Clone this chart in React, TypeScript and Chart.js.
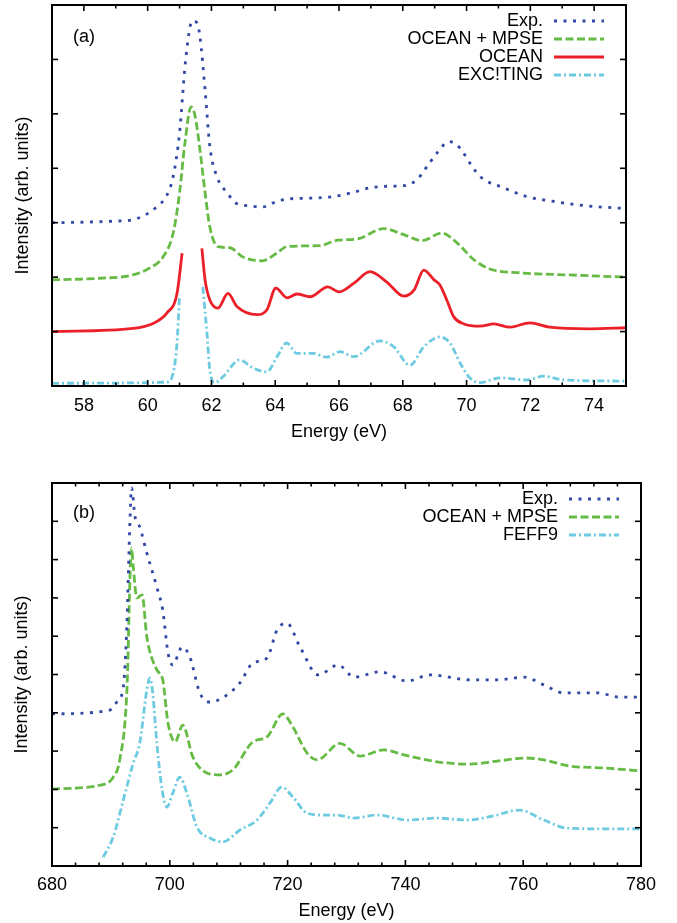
import React, { useEffect, useRef } from 'react';
import { Chart, registerables } from 'chart.js';

Chart.register(...registerables);

const FONT = '"Liberation Sans", Arial, Helvetica, sans-serif';

// ---------- Panel (a): Energy 57–75 eV ----------
const A_EXP_X = [57, 58, 59, 59.5, 59.85, 60.3, 60.6, 60.8, 61.0, 61.17, 61.3, 61.39, 61.55, 61.64, 61.8, 61.95, 62.17, 62.49, 62.8, 63.2, 63.6, 64.05, 64.46, 65.0, 65.8, 66.4, 66.97, 67.5, 68.03, 68.44, 68.76, 69.07, 69.45, 69.8, 70.1, 70.42, 71.17, 71.89, 72.74, 73.77, 75];
const A_EXP_Y = [3.0, 3.01, 3.03, 3.05, 3.12, 3.3, 3.5, 3.85, 4.65, 5.87, 6.5, 6.71, 6.67, 6.42, 5.44, 4.4, 3.85, 3.55, 3.35, 3.31, 3.29, 3.39, 3.44, 3.45, 3.48, 3.55, 3.64, 3.67, 3.68, 3.79, 4.03, 4.28, 4.49, 4.37, 4.1, 3.85, 3.64, 3.48, 3.39, 3.31, 3.26];

const A_MPSE_X = [57, 58.5, 59.54, 60.07, 60.48, 60.8, 61.0, 61.17, 61.36, 61.48, 61.64, 61.8, 61.95, 62.2, 62.58, 62.99, 63.6, 64.05, 64.36, 65.4, 65.97, 66.56, 67.4, 68.03, 68.6, 69.22, 69.7, 70.23, 70.73, 71.67, 73.24, 75];
const A_MPSE_Y = [1.95, 1.98, 2.04, 2.17, 2.37, 2.81, 3.55, 4.47, 5.13, 4.98, 4.34, 3.55, 2.92, 2.56, 2.54, 2.37, 2.3, 2.44, 2.56, 2.58, 2.68, 2.7, 2.89, 2.78, 2.67, 2.81, 2.63, 2.32, 2.15, 2.08, 2.04, 2.0];

const A_OCEAN_X = [57, 59.54, 60.17, 60.6, 60.92, 61.08, 61.4, 61.7, 61.8, 61.95, 62.2, 62.52, 62.8, 63.43, 63.74, 64.02, 64.37, 64.68, 65.09, 65.65, 66.0, 66.47, 66.97, 67.5, 68.03, 68.35, 68.66, 68.98, 69.16, 69.38, 69.6, 69.92, 70.42, 70.86, 71.36, 71.98, 72.61, 73.87, 75];
const A_OCEAN_Y = [1.0, 1.06, 1.15, 1.34, 1.7, 2.44, null, 2.53, 1.95, 1.58, 1.43, 1.7, 1.46, 1.31, 1.4, 1.8, 1.62, 1.69, 1.64, 1.82, 1.73, 1.89, 2.1, 1.91, 1.65, 1.76, 2.13, 1.95, 1.86, 1.58, 1.27, 1.14, 1.1, 1.14, 1.08, 1.16, 1.08, 1.05, 1.07];

const A_EXC_X = [57, 60.6, 60.8, 60.92, 61.0, 61.4, 61.73, 61.86, 61.95, 62.11, 62.36, 62.89, 63.3, 63.74, 64.05, 64.36, 64.68, 65.18, 65.62, 66.03, 66.47, 67.28, 67.72, 68.22, 68.66, 69.16, 69.48, 69.8, 70.1, 70.42, 71.05, 71.89, 72.42, 73.05, 75];
const A_EXC_Y = [0.05, 0.07, 0.24, 0.79, 1.67, null, 1.82, 0.97, 0.29, 0.06, 0.17, 0.48, 0.33, 0.26, 0.53, 0.79, 0.6, 0.6, 0.53, 0.63, 0.54, 0.83, 0.72, 0.38, 0.72, 0.9, 0.79, 0.42, 0.15, 0.06, 0.15, 0.11, 0.18, 0.11, 0.09];

const A_XTICKS = [57, 58, 59, 60, 61, 62, 63, 64, 65, 66, 67, 68, 69, 70, 71, 72, 73, 74, 75];
const A_XLABELS = [58, 60, 62, 64, 66, 68, 70, 72, 74];
const A_YTICKS = [0, 1, 2, 3, 4, 5, 6, 7];

// ---------- Panel (b): Energy 680–780 eV ----------
const B_EXP_X = [680, 689.8, 691.0, 692.1, 692.7, 693.2, 693.5, 694.1, 694.9, 696.1, 697.8, 698.8, 699.7, 700.5, 702.1, 703.4, 705.1, 706.8, 709.0, 711.9, 714.1, 716.5, 718.2, 719.9, 722.1, 725.2, 728.6, 731.3, 735.7, 740.3, 744.2, 751.0, 755.6, 760.1, 763.5, 766.9, 772.5, 776.4, 780];
const B_EXP_Y = [3.97, 4.07, 4.28, 4.67, 6.24, 8.85, 9.87, 9.11, 8.85, 8.17, 7.28, 6.68, 5.56, 5.25, 5.72, 5.46, 4.52, 4.28, 4.39, 4.78, 5.3, 5.43, 6.16, 6.34, 5.72, 4.99, 5.25, 4.93, 5.07, 4.83, 4.99, 4.86, 4.86, 4.93, 4.73, 4.52, 4.52, 4.41, 4.41];

const B_MPSE_X = [680, 688.1, 690.4, 691.5, 692.7, 693.5, 693.8, 694.4, 695.3, 696.1, 697.8, 698.8, 699.7, 700.9, 702.2, 703.9, 706.3, 708.5, 710.7, 714.1, 716.5, 719.2, 720.9, 723.3, 725.0, 728.9, 732.3, 736.4, 739.8, 745.4, 751.0, 755.6, 760.6, 763.5, 767.9, 773.7, 780];
const B_MPSE_Y = [2.01, 2.11, 2.32, 2.77, 4.52, 8.3, 7.81, 7.0, 7.08, 5.98, 5.12, 4.86, 3.73, 3.24, 3.68, 2.85, 2.43, 2.38, 2.51, 3.24, 3.37, 3.97, 3.63, 2.95, 2.77, 3.2, 2.87, 3.03, 2.9, 2.72, 2.66, 2.74, 2.82, 2.77, 2.61, 2.56, 2.48];

const B_FEFF_X = [688.7, 690.4, 692.1, 693.8, 694.9, 696.1, 696.6, 697.1, 697.8, 698.7, 699.5, 700.5, 701.7, 702.9, 704.6, 706.8, 709.0, 711.9, 714.8, 717.0, 719.0, 720.9, 723.3, 726.0, 728.4, 731.3, 735.2, 740.3, 745.4, 750.5, 755.0, 759.3, 763.5, 767.4, 773.7, 780];
const B_FEFF_Y = [0.23, 0.76, 1.72, 2.69, 3.21, 4.6, 4.91, 4.52, 3.21, 1.98, 1.54, 1.9, 2.32, 1.9, 1.02, 0.73, 0.63, 0.94, 1.2, 1.64, 2.06, 1.8, 1.38, 1.33, 1.33, 1.25, 1.33, 1.2, 1.25, 1.2, 1.31, 1.46, 1.2, 0.99, 0.97, 0.97];

const B_XTICKS = [680, 684, 688, 692, 696, 700, 704, 708, 712, 716, 720, 724, 728, 732, 736, 740, 744, 748, 752, 756, 760, 764, 768, 772, 776, 780];
const B_XLABELS = [680, 700, 720, 740, 760, 780];
const B_YTICKS = [0, 1, 2, 3, 4, 5, 6, 7, 8, 9, 10];

const LABEL_EXP = 'Exp.';
const LABEL_MPSE = 'OCEAN + MPSE';
const LABEL_OCEAN = 'OCEAN';
const LABEL_EXC = 'EXC!TING';
const LABEL_FEFF = 'FEFF9';

const C_EXP = '#3048a6';
const C_MPSE = '#66bb44';
const C_OCEAN = '#ec2028';
const C_EXC = '#6ccbe0';

const DASH_EXP = [3, 6.5];
const DASH_MPSE = [8, 3.5];
const DASH_EXC = [7, 3, 2, 3];

function pts(xs: number[], ys: (number | null)[]) {
  return xs.map((x, i) => ({ x, y: ys[i] }));
}

function ds(label: string, xs: number[], ys: (number | null)[], color: string, dash: number[]) {
  return {
    label,
    data: pts(xs, ys),
    borderColor: color,
    backgroundColor: color,
    borderWidth: 2.8,
    borderDash: dash,
    fill: false,
    pointRadius: 0,
    spanGaps: false,
    cubicInterpolationMode: 'monotone',
  };
}

const frameTicks = {
  id: 'frameTicks',
  afterDatasetsDraw(chart: any, _args: any, opts: any) {
    const { ctx, chartArea: a, scales } = chart;
    const line = (x1: number, y1: number, x2: number, y2: number) => {
      ctx.beginPath();
      ctx.moveTo(x1, y1);
      ctx.lineTo(x2, y2);
      ctx.stroke();
    };
    ctx.save();
    ctx.setLineDash([]);
    ctx.strokeStyle = '#000';
    ctx.lineWidth = 1.6;
    const xs = scales.x;
    const majors: number[] = opts.xMajors || [];
    xs.ticks.forEach((t: any) => {
      const px = xs.getPixelForValue(t.value);
      const len = majors.indexOf(t.value) >= 0 ? 6 : 3.5;
      line(px, a.bottom, px, a.bottom - len);
      line(px, a.top, px, a.top + len);
    });
    const ys = scales.y;
    ys.ticks.forEach((t: any) => {
      const py = ys.getPixelForValue(t.value);
      line(a.left, py, a.left + 6, py);
      line(a.right, py, a.right - 6, py);
    });
    ctx.lineWidth = 2;
    ctx.strokeRect(a.left, a.top, a.right - a.left, a.bottom - a.top);

    ctx.fillStyle = '#000';
    ctx.font = `18px ${FONT}`;
    ctx.textBaseline = 'middle';
    ctx.textAlign = 'left';
    ctx.fillText(opts.panel, a.left + 21, a.top + opts.panelDy);

    chart.data.datasets.forEach((d: any, i: number) => {
      const y = a.top + 16 + i * 18;
      ctx.setLineDash([]);
      ctx.fillStyle = '#000';
      ctx.textAlign = 'right';
      ctx.fillText(d.label, a.right - 83, y);
      ctx.strokeStyle = d.borderColor;
      ctx.lineWidth = d.borderWidth;
      ctx.setLineDash(d.borderDash || []);
      line(a.right - 72, y, a.right - 22, y);
    });
    ctx.restore();
  },
};

function makeConfig(p: any) {
  return {
    type: 'line',
    data: { datasets: p.datasets },
    options: {
      responsive: false,
      animation: false,
      events: [],
      layout: { padding: { left: 0, right: p.padRight, top: p.padTop, bottom: 0 } },
      plugins: {
        legend: { display: false },
        tooltip: { enabled: false },
        frameTicks: { panel: p.panel, panelDy: p.panelDy, xMajors: p.xLabels },
      },
      scales: {
        x: {
          type: 'linear',
          min: p.xMin,
          max: p.xMax,
          grid: { display: false, drawTicks: false },
          border: { display: false },
          ticks: {
            autoSkip: false,
            maxRotation: 0,
            padding: p.tickPad,
            color: '#000',
            font: { family: FONT, size: 18 },
            callback: (v: number) => (p.xLabels.indexOf(v) >= 0 ? String(v) : ''),
          },
          afterBuildTicks: (s: any) => {
            s.ticks = p.xTicks.map((v: number) => ({ value: v }));
          },
          afterFit: (s: any) => {
            s.height = p.xAxisH;
          },
          title: {
            display: true,
            text: 'Energy (eV)',
            color: '#000',
            font: { family: FONT, size: 18 },
            padding: { top: 0, bottom: p.titlePad },
          },
        },
        y: {
          type: 'linear',
          min: 0,
          max: p.yMax,
          grid: { display: false, drawTicks: false },
          border: { display: false },
          ticks: { display: false },
          afterBuildTicks: (s: any) => {
            s.ticks = p.yTicks.map((v: number) => ({ value: v }));
          },
          afterFit: (s: any) => {
            s.width = 52;
          },
          title: {
            display: true,
            text: 'Intensity (arb. units)',
            color: '#000',
            font: { family: FONT, size: 18 },
            padding: { top: p.yTitlePad, bottom: 0 },
          },
        },
      },
    },
    plugins: [frameTicks],
  } as any;
}

export default function App() {
  const refA = useRef<HTMLCanvasElement>(null);
  const refB = useRef<HTMLCanvasElement>(null);

  useEffect(() => {
    const chartA = new Chart(
      refA.current as HTMLCanvasElement,
      makeConfig({
        datasets: [
          ds(LABEL_EXP, A_EXP_X, A_EXP_Y, C_EXP, DASH_EXP),
          ds(LABEL_MPSE, A_MPSE_X, A_MPSE_Y, C_MPSE, DASH_MPSE),
          ds(LABEL_OCEAN, A_OCEAN_X, A_OCEAN_Y, C_OCEAN, []),
          ds(LABEL_EXC, A_EXC_X, A_EXC_Y, C_EXC, DASH_EXC),
        ],
        panel: '(a)',
        panelDy: 32,
        padRight: 51,
        padTop: 5,
        xMin: 57,
        xMax: 75,
        xTicks: A_XTICKS,
        xLabels: A_XLABELS,
        yTicks: A_YTICKS,
        yMax: 7,
        xAxisH: 74,
        tickPad: 9,
        titlePad: 17,
        yTitlePad: 12,
      })
    );
    const chartB = new Chart(
      refB.current as HTMLCanvasElement,
      makeConfig({
        datasets: [
          ds(LABEL_EXP, B_EXP_X, B_EXP_Y, C_EXP, DASH_EXP),
          ds(LABEL_MPSE, B_MPSE_X, B_MPSE_Y, C_MPSE, DASH_MPSE),
          ds(LABEL_FEFF, B_FEFF_X, B_FEFF_Y, C_EXC, DASH_EXC),
        ],
        panel: '(b)',
        panelDy: 30,
        padRight: 36,
        padTop: 23,
        xMin: 680,
        xMax: 780,
        xTicks: B_XTICKS,
        xLabels: B_XLABELS,
        yTicks: B_YTICKS,
        yMax: 10,
        xAxisH: 57,
        tickPad: 8,
        titlePad: 1,
        yTitlePad: 11,
      })
    );
    return () => {
      chartA.destroy();
      chartB.destroy();
    };
  }, []);

  return (
    <div style={{ position: 'absolute', left: 0, top: 0, width: 677, height: 923, background: '#fff' }}>
      <canvas ref={refA} width={677} height={460} style={{ position: 'absolute', left: 0, top: 0, display: 'block' }} />
      <canvas ref={refB} width={677} height={463} style={{ position: 'absolute', left: 0, top: 460, display: 'block' }} />
    </div>
  );
}
